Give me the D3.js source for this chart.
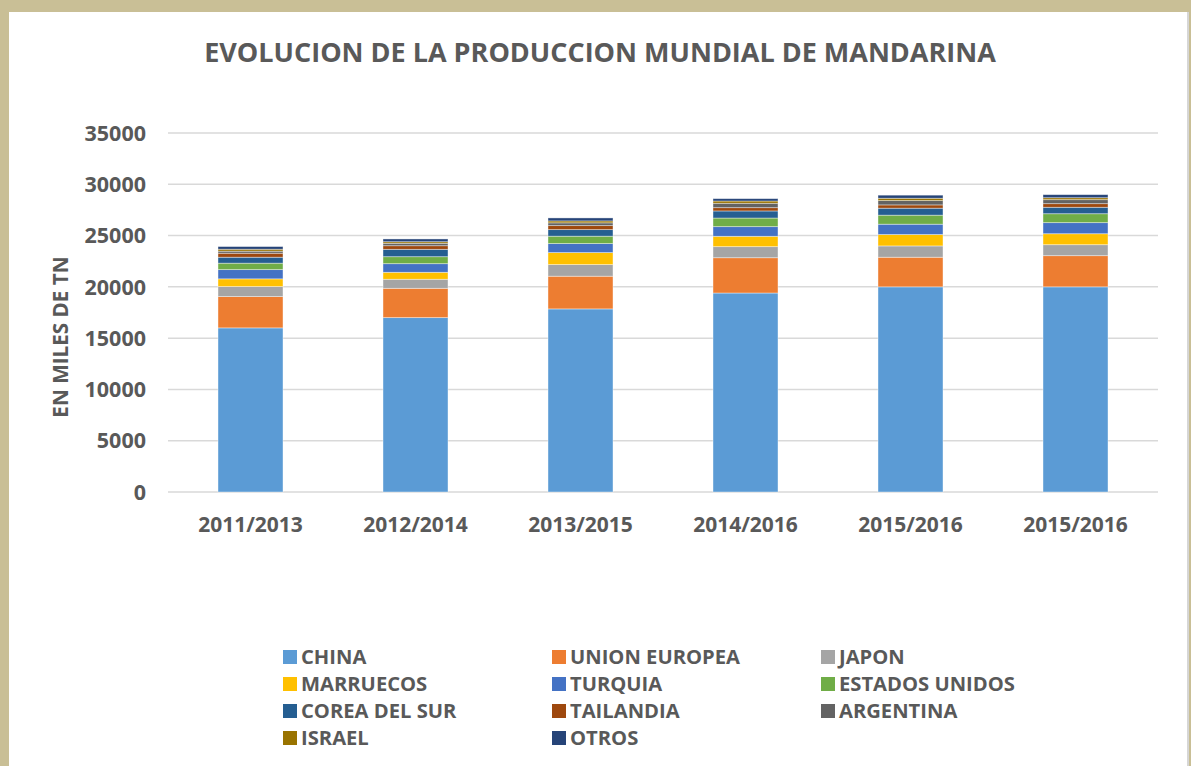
<!DOCTYPE html>
<html lang="es">
<head>
  <meta charset="UTF-8">
  <title>Evolucion de la produccion mundial de mandarina</title>
  <style>
    body {
      margin: 0;
      background: #c9bf96;
      font-family: "Open Sans", Arial, sans-serif;
    }
    #panel {
      position: absolute;
      left: 9px;
      top: 12px;
      width: 1178px;
      height: 760px;
      background: #fff;
      border-right: 2px solid #d6d6d6;
    }
    svg { position: absolute; left: 0; top: 0; }
  </style>
</head>
<body>
  <div id="panel"></div>
  <script src="https://d3js.org/d3.v7.min.js"></script>
  <script>
    const periods = ['2011/2013', '2012/2014', '2013/2015', '2014/2016', '2015/2016', '2015/2016'];
    const countries = ['CHINA', 'UNION EUROPEA', 'JAPON', 'MARRUECOS', 'TURQUIA', 'ESTADOS UNIDOS',
                       'COREA DEL SUR', 'TAILANDIA', 'ARGENTINA', 'ISRAEL', 'OTROS'];
    const colors = ['#5b9bd5', '#ed7d31', '#a5a5a5', '#ffc000', '#4472c4', '#70ad47',
                    '#255e91', '#9e480e', '#636363', '#997300', '#264478'];

    // thousand tonnes, one array per country (one value per period)
    const china       = [16000, 17000, 17850, 19400, 20000, 20000];
    const unionEurop  = [3050, 2860, 3190, 3440, 2890, 3040];
    const japon       = [980, 880, 1130, 1080, 1100, 1070];
    const marruecos   = [750, 680, 1170, 1010, 1110, 1070];
    const turquia     = [900, 840, 880, 940, 1010, 1080];
    const eeuu        = [630, 680, 720, 840, 880, 870];
    const corea       = [580, 720, 640, 690, 680, 630];
    const tailandia   = [390, 350, 390, 320, 320, 350];
    const argentina   = [200, 240, 270, 430, 420, 390];
    const israel      = [190, 150, 190, 220, 230, 190];
    const otros       = [260, 270, 290, 230, 300, 300];
    const series = [china, unionEurop, japon, marruecos, turquia, eeuu,
                    corea, tailandia, argentina, israel, otros];

    const yTicks = [0, 5000, 10000, 15000, 20000, 25000, 30000, 35000];

    const width = 1191, height = 766;
    const margin = {left: 168, right: 33, top: 133, bottom: 274};
    const textColor = '#595959';

    const svg = d3.select('body').append('svg')
      .attr('width', width)
      .attr('height', height);

    const x = d3.scaleBand()
      .domain(d3.range(periods.length))
      .range([margin.left, width - margin.right])
      .paddingInner(0.606)
      .paddingOuter(0.303);

    const y = d3.scaleLinear()
      .domain([0, 35000])
      .range([height - margin.bottom, margin.top]);

    // gridlines
    svg.append('g')
      .selectAll('line')
      .data(yTicks)
      .enter().append('line')
        .attr('x1', margin.left)
        .attr('x2', width - margin.right)
        .attr('y1', d => y(d))
        .attr('y2', d => y(d))
        .attr('stroke', '#d9d9d9')
        .attr('stroke-width', 1.5);

    // tick labels
    svg.append('g')
      .selectAll('text')
      .data(yTicks)
      .enter().append('text')
        .attr('x', 146)
        .attr('y', d => y(d))
        .attr('dy', '0.36em')
        .attr('text-anchor', 'end')
        .attr('fill', textColor)
        .style('font-size', '21.5px')
        .style('font-weight', 700)
        .text(d => d);

    // stacked bars
    const rows = periods.map((p, i) => {
      const r = {i: i};
      countries.forEach((c, k) => { r[c] = series[k][i]; });
      return r;
    });
    const stacked = d3.stack().keys(countries)(rows);

    svg.append('g')
      .selectAll('g')
      .data(stacked)
      .enter().append('g')
        .attr('fill', (d, k) => colors[k])
      .selectAll('rect')
      .data(d => d)
      .enter().append('rect')
        .attr('x', d => x(d.data.i))
        .attr('width', x.bandwidth())
        .attr('y', d => y(d[1]))
        .attr('height', d => y(d[0]) - y(d[1]))
        .attr('stroke', '#ffffff')
        .attr('stroke-opacity', 0.5)
        .attr('stroke-width', 0.8);

    // category labels
    svg.append('g')
      .selectAll('text')
      .data(periods)
      .enter().append('text')
        .attr('x', (d, i) => x(i) + x.bandwidth() / 2)
        .attr('y', 532)
        .attr('text-anchor', 'middle')
        .attr('fill', textColor)
        .style('font-size', '21px')
        .style('font-weight', 700)
        .text(d => d);

    // title
    svg.append('text')
      .attr('x', 600)
      .attr('y', 62)
      .attr('text-anchor', 'middle')
      .attr('fill', textColor)
      .style('font-size', '27px')
      .style('font-weight', 700)
      .text('EVOLUCION DE LA PRODUCCION MUNDIAL DE MANDARINA');

    // y axis title
    svg.append('text')
      .attr('transform', 'translate(68,337) rotate(-90)')
      .attr('text-anchor', 'middle')
      .attr('fill', textColor)
      .style('font-size', '20.7px')
      .style('font-weight', 700)
      .text('EN MILES DE TN');

    // legend
    const legend = svg.append('g')
      .selectAll('g')
      .data(countries)
      .enter().append('g')
        .attr('transform', (d, k) => `translate(${283 + (k % 3) * 269},${657 + Math.floor(k / 3) * 27})`);

    legend.append('rect')
      .attr('x', 0)
      .attr('y', -7)
      .attr('width', 14)
      .attr('height', 14)
      .attr('fill', (d, k) => colors[k]);

    legend.append('text')
      .attr('x', 18)
      .attr('dy', '0.36em')
      .attr('fill', textColor)
      .style('font-size', '20.2px')
      .style('font-weight', 700)
      .text(d => d);
  </script>
</body>
</html>
